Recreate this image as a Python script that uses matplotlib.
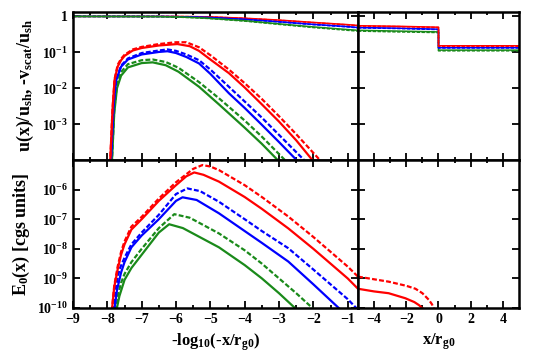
import numpy as np
import matplotlib
matplotlib.use('Agg')
import matplotlib.pyplot as plt
from matplotlib.ticker import MultipleLocator, FixedLocator, NullFormatter

plt.rcParams['font.family'] = ['Liberation Serif']
plt.rcParams['font.weight'] = 'bold'
plt.rcParams['axes.labelweight'] = 'bold'
plt.rcParams['mathtext.fontset'] = 'custom'
plt.rcParams['mathtext.rm'] = 'Liberation Serif:bold'
plt.rcParams['mathtext.it'] = 'Liberation Serif:bold'
plt.rcParams['mathtext.bf'] = 'Liberation Serif:bold'

RED = '#ff0000'
BLUE = '#0000ff'
GREEN = '#1a8a1a'
DASH = (0, (2.2, 1.0))

# ---- top left: u(x)/u_sh  (x = -log10(-x/rg0), values linear) ----
u_x = [-9.0, -6.5, -6.0, -5.5, -5.0, -4.0, -3.0, -2.0, -1.0, -0.7]
u_red_s = [1.0, 1.0, 0.995, 0.985, 0.97, 0.89, 0.79, 0.68, 0.59, 0.56]
u_red_d = [1.0, 1.0, 0.995, 0.983, 0.965, 0.88, 0.78, 0.67, 0.58, 0.55]
u_blue_s = [1.0, 0.995, 0.985, 0.96, 0.93, 0.83, 0.71, 0.60, 0.52, 0.49]
u_blue_d = [1.0, 0.995, 0.983, 0.955, 0.925, 0.82, 0.70, 0.59, 0.51, 0.48]
u_green_s = [1.0, 0.99, 0.97, 0.93, 0.88, 0.76, 0.62, 0.51, 0.43, 0.41]
u_green_d = [1.0, 0.985, 0.96, 0.92, 0.87, 0.74, 0.60, 0.49, 0.41, 0.39]

# ---- top left: -v_scat/u_sh, log10 values ----
vr_s_x = [-7.92, -7.85, -7.79, -7.7, -7.6, -7.5, -7.26, -7.0, -6.5, -5.96, -5.6, -5.33, -5.0, -4.46, -4.0, -3.5, -3.0, -2.5, -2.03]
vr_s_y = [-4.1, -2.6, -1.77, -1.4, -1.22, -1.1, -0.95, -0.88, -0.81, -0.77, -0.83, -0.96, -1.2, -1.58, -1.98, -2.45, -2.93, -3.45, -4.0]
vr_d_x = [-7.92, -7.85, -7.79, -7.7, -7.6, -7.5, -7.26, -7.0, -6.5, -6.0, -5.7, -5.33, -5.0, -4.46, -4.0, -3.5, -3.0, -2.5, -1.81]
vr_d_y = [-4.1, -2.6, -1.75, -1.35, -1.18, -1.07, -0.92, -0.85, -0.77, -0.72, -0.72, -0.86, -1.08, -1.48, -1.86, -2.3, -2.78, -3.28, -4.0]
vb_s_x = [-7.9, -7.82, -7.75, -7.6, -7.4, -7.0, -6.5, -6.25, -6.0, -5.7, -5.33, -5.0, -4.46, -4.0, -3.5, -3.0, -2.49]
vb_s_y = [-4.1, -2.5, -1.8, -1.4, -1.2, -1.06, -0.99, -0.97, -1.02, -1.13, -1.31, -1.6, -2.14, -2.55, -3.02, -3.5, -4.0]
vb_d_x = [-7.9, -7.82, -7.75, -7.6, -7.4, -7.0, -6.5, -6.25, -6.0, -5.7, -5.33, -5.0, -4.46, -4.0, -3.5, -3.0, -2.27]
vb_d_y = [-4.1, -2.5, -1.78, -1.37, -1.17, -1.02, -0.95, -0.92, -0.96, -1.06, -1.22, -1.48, -1.96, -2.37, -2.82, -3.3, -4.0]
vg_s_x = [-7.87, -7.8, -7.72, -7.6, -7.4, -7.0, -6.68, -6.3, -5.93, -5.33, -4.75, -4.0, -3.5, -3.04]
vg_s_y = [-4.1, -2.7, -2.0, -1.65, -1.42, -1.3, -1.28, -1.36, -1.54, -1.96, -2.45, -3.1, -3.55, -4.0]
vg_d_x = [-7.87, -7.8, -7.72, -7.6, -7.4, -7.0, -6.68, -6.3, -5.93, -5.33, -4.75, -4.0, -3.5, -2.83]
vg_d_y = [-4.1, -2.6, -1.9, -1.55, -1.33, -1.22, -1.2, -1.27, -1.43, -1.83, -2.28, -2.9, -3.35, -4.0]

# ---- top right: u(x)/u_sh, x/rg0 linear ----
ur_x = [-5.0, -2.5, 0.0, 0.0, 5.0]
ur_red_s = [0.55, 0.53, 0.50, 0.152, 0.152]
ur_red_d = [0.54, 0.52, 0.49, 0.148, 0.148]
ur_blue_s = [0.49, 0.47, 0.44, 0.135, 0.135]
ur_blue_d = [0.48, 0.46, 0.43, 0.132, 0.132]
ur_green_s = [0.41, 0.39, 0.37, 0.115, 0.115]
ur_green_d = [0.39, 0.37, 0.355, 0.11, 0.11]

# ---- bottom left: E0(x), log10 values ----
er_s_x = [-7.87, -7.8, -7.7, -7.6, -7.5, -7.3, -7.0, -6.5, -6.0, -5.7, -5.47, -5.2, -4.75, -4.0, -3.5, -2.73, -2.0, -1.5, -1.0, -0.7]
er_s_y = [-10.1, -9.3, -8.7, -8.2, -7.85, -7.35, -7.0, -6.38, -5.85, -5.55, -5.42, -5.5, -5.73, -6.25, -6.65, -7.31, -8.0, -8.5, -9.0, -9.35]
er_d_x = [-7.87, -7.8, -7.7, -7.6, -7.5, -7.3, -7.0, -6.5, -6.0, -5.5, -5.23, -5.0, -4.75, -4.0, -3.5, -2.73, -2.0, -1.5, -1.0, -0.7]
er_d_y = [-10.1, -9.25, -8.6, -8.1, -7.75, -7.25, -6.92, -6.3, -5.75, -5.3, -5.17, -5.22, -5.34, -5.85, -6.25, -6.91, -7.6, -8.1, -8.6, -8.94]
eb_s_x = [-7.8, -7.72, -7.6, -7.5, -7.3, -7.0, -6.5, -6.0, -5.81, -5.4, -4.75, -4.0, -3.5, -2.73, -2.0, -1.26]
eb_s_y = [-10.1, -9.4, -8.8, -8.45, -7.95, -7.55, -7.0, -6.38, -6.26, -6.35, -6.8, -7.4, -7.8, -8.43, -9.2, -10.0]
eb_d_x = [-7.82, -7.75, -7.65, -7.5, -7.3, -7.0, -6.5, -6.0, -5.67, -5.3, -4.75, -4.0, -3.5, -2.73, -2.0, -1.5, -1.0, -0.75]
eb_d_y = [-10.1, -9.3, -8.7, -8.3, -7.85, -7.45, -6.85, -6.15, -5.96, -6.05, -6.41, -7.0, -7.4, -7.98, -8.7, -9.2, -9.7, -10.0]
eg_s_x = [-7.74, -7.65, -7.5, -7.3, -7.0, -6.5, -6.2, -5.8, -4.75, -4.0, -3.5, -3.0, -2.49]
eg_s_y = [-10.1, -9.6, -9.05, -8.65, -8.2, -7.45, -7.17, -7.3, -7.95, -8.55, -9.0, -9.5, -10.05]
eg_d_x = [-7.75, -7.68, -7.6, -7.5, -7.3, -7.0, -6.5, -6.05, -5.6, -4.75, -4.0, -3.5, -3.0, -2.5, -1.98]
eg_d_y = [-10.1, -9.5, -9.15, -8.85, -8.45, -8.0, -7.3, -6.83, -6.95, -7.48, -8.05, -8.5, -9.0, -9.5, -10.05]

# ---- bottom right: E0(x), log10 values ----
er2_s_x = [-5.0, -4.0, -3.1, -2.06, -1.5, -1.22, -0.9]
er2_s_y = [-9.35, -9.44, -9.5, -9.67, -9.8, -9.9, -10.05]
er2_d_x = [-5.0, -4.0, -3.1, -2.0, -1.43, -1.0, -0.59, -0.4, -0.27]
er2_d_y = [-8.94, -9.03, -9.11, -9.25, -9.35, -9.5, -9.73, -9.88, -10.05]

LW = 1.6

fig = plt.figure(figsize=(5.33, 3.63), dpi=100)
axL = fig.add_axes([0.137, 0.5592, 0.5347, 0.4085])
axR = fig.add_axes([0.6717, 0.5592, 0.302, 0.4085])
bxL = fig.add_axes([0.137, 0.1515, 0.5347, 0.4077])
bxR = fig.add_axes([0.6717, 0.1515, 0.302, 0.4077])

# top left
for ys, yd, c in [(u_red_s, u_red_d, RED), (u_blue_s, u_blue_d, BLUE), (u_green_s, u_green_d, GREEN)]:
    axL.plot(u_x, ys, color=c, lw=1.1)
    axL.plot(u_x, yd, color=c, lw=1.1, ls=DASH)
for xs, ys, xd, yd, c in [(vg_s_x, vg_s_y, vg_d_x, vg_d_y, GREEN),
                          (vb_s_x, vb_s_y, vb_d_x, vb_d_y, BLUE),
                          (vr_s_x, vr_s_y, vr_d_x, vr_d_y, RED)]:
    axL.plot(xs, 10 ** np.array(ys), color=c, lw=LW)
    axL.plot(xd, 10 ** np.array(yd), color=c, lw=LW, ls=DASH)

# top right
for ys, yd, c in [(ur_green_s, ur_green_d, GREEN), (ur_blue_s, ur_blue_d, BLUE), (ur_red_s, ur_red_d, RED)]:
    axR.plot(ur_x, ys, color=c, lw=1.1)
    axR.plot(ur_x, yd, color=c, lw=1.1, ls=DASH)

# bottom left
for xs, ys, xd, yd, c in [(eg_s_x, eg_s_y, eg_d_x, eg_d_y, GREEN),
                          (eb_s_x, eb_s_y, eb_d_x, eb_d_y, BLUE),
                          (er_s_x, er_s_y, er_d_x, er_d_y, RED)]:
    bxL.plot(xs, 10 ** np.array(ys), color=c, lw=LW)
    bxL.plot(xd, 10 ** np.array(yd), color=c, lw=LW, ls=DASH)

# bottom right
bxR.plot(er2_s_x, 10 ** np.array(er2_s_y), color=RED, lw=LW)
bxR.plot(er2_d_x, 10 ** np.array(er2_d_y), color=RED, lw=LW, ls=DASH)

XL = (-9, -np.log10(5))
XR = (-5, 5)
for ax in (axL, axR, bxL, bxR):
    ax.set_yscale('log')
    ax.tick_params(which='both', direction='in', top=True, right=True, width=1.3,
                   labelsize=10)
    ax.tick_params(which='major', length=5)
    ax.tick_params(which='minor', length=2.5)
    for s in ax.spines.values():
        s.set_linewidth(1.8)
    ax.yaxis.set_minor_locator(FixedLocator([]))

for ax in (axL, bxL):
    ax.set_xlim(*XL)
    ax.xaxis.set_major_locator(MultipleLocator(1))
    ax.xaxis.set_minor_locator(MultipleLocator(0.5))
for ax in (axR, bxR):
    ax.set_xlim(*XR)
    ax.xaxis.set_major_locator(FixedLocator([-4, -2, 0, 2, 4]))
    ax.xaxis.set_minor_locator(FixedLocator([-3, -1, 1, 3]))
    ax.yaxis.set_major_formatter(NullFormatter())

top_ticks = [1e-3, 1e-2, 1e-1, 1]
for ax in (axL, axR):
    ax.set_ylim(1e-4, 1.35)
    ax.set_yticks(top_ticks)
    ax.xaxis.set_major_formatter(NullFormatter())
axL.set_yticklabels([r'$\mathregular{10^{-3}}$', r'$\mathregular{10^{-2}}$',
                     r'$\mathregular{10^{-1}}$', '1'])
axR.set_yticklabels([])

bot_ticks = [1e-10, 1e-9, 1e-8, 1e-7, 1e-6]
for ax in (bxL, bxR):
    ax.set_ylim(1e-10, 1e-5)
    ax.set_yticks(bot_ticks)
bxL.set_yticklabels([r'$\mathregular{10^{-10}}$', r'$\mathregular{10^{-9}}$', r'$\mathregular{10^{-8}}$',
                     r'$\mathregular{10^{-7}}$', r'$\mathregular{10^{-6}}$'])
bxR.set_yticklabels([])

axL.set_ylabel(r'u(x)/u$_\mathrm{sh}$, -v$_\mathrm{scat}$/u$_\mathrm{sh}$', fontsize=13)
bxL.set_ylabel(r'E$_\mathrm{0}$(x) [cgs units]', fontsize=13)
axL.yaxis.set_label_coords(-0.13, 0.5)
bxL.yaxis.set_label_coords(-0.145, 0.5)
bxL.set_xlabel(r'-log$_\mathrm{10}$(-x/r$_\mathrm{g0}$)', fontsize=12, labelpad=4)
bxR.set_xlabel(r'x/r$_\mathrm{g0}$', fontsize=12, labelpad=4)

fig.savefig('out.png', dpi=100)
